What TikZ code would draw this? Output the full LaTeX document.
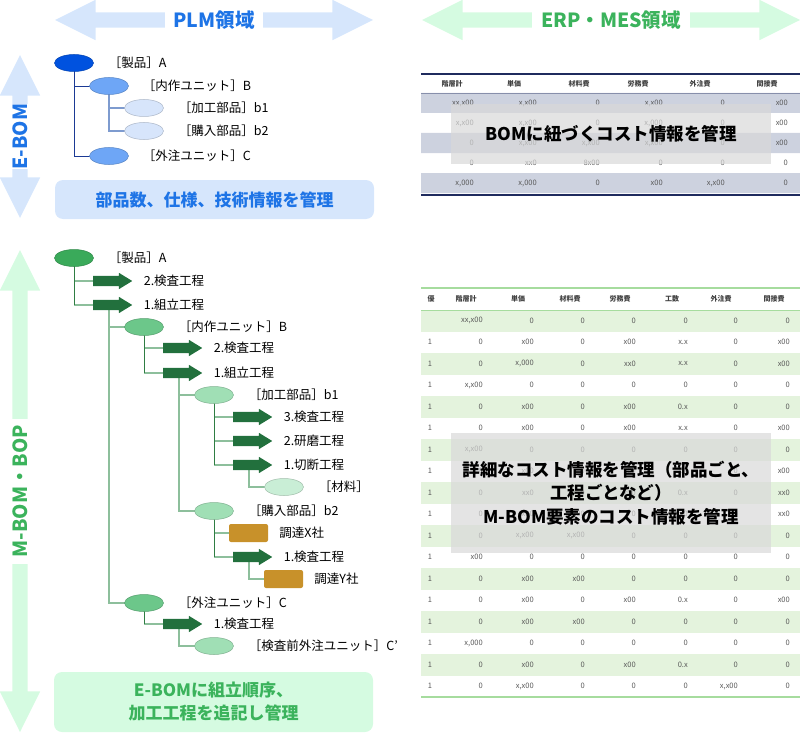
\documentclass[tikz,border=0pt]{standalone}
\usepackage{fontspec}
\setmainfont{Noto Sans CJK JP}
\usetikzlibrary{shapes.geometric,shapes.arrows,positioning,backgrounds}

\definecolor{plmblue}{HTML}{1E74E6}
\definecolor{plmpale}{HTML}{D6E6FC}
\definecolor{erpgreen}{HTML}{3BB35C}
\definecolor{erppale}{HTML}{D5FBE1}
\definecolor{ebomdark}{HTML}{0052DF}
\definecolor{ebommid}{HTML}{6EA6F6}
\definecolor{ebomlight}{HTML}{D7E5FB}
\definecolor{blueline}{HTML}{1B3A94}
\definecolor{bluelinelt}{HTML}{7E9BCF}
\definecolor{mbomdark}{HTML}{3AAA5A}
\definecolor{mbommid}{HTML}{6CC78A}
\definecolor{mbomlight}{HTML}{A0DFB5}
\definecolor{mbompale}{HTML}{C9EED6}
\definecolor{procgreen}{HTML}{22703D}
\definecolor{supgold}{HTML}{C8912A}
\definecolor{greenline}{HTML}{2F7D43}
\definecolor{greenlinelt}{HTML}{8DBF9C}
\definecolor{navyrule}{HTML}{1F2B5E}
\definecolor{bluerow}{HTML}{CDD2DF}
\definecolor{greenrule}{HTML}{A6DC9E}
\definecolor{greenrow}{HTML}{E4F3DD}

\tikzset{
  bigarrow/.style={double arrow, fill=#1, draw=none, inner xsep=0pt, inner ysep=7.5pt,
    double arrow head extend=12.5pt,
    double arrow tip angle=53, double arrow head indent=0pt},
  areatitle/.style={fill=white, text=#1, inner sep=0pt, minimum height=22pt,
    font=\bfseries\fontsize{19.5}{22}\selectfont},
  partnode/.style={ellipse, fill=#1, draw=#1!80!black, line width=.5pt,
    minimum width=39pt, minimum height=17pt, inner sep=0pt},
  procarrow/.style={single arrow, fill=procgreen, draw=none, inner xsep=0pt, inner ysep=5pt,
    minimum height=39pt, single arrow head extend=3pt,
    single arrow tip angle=63, single arrow head indent=0pt},
  supbox/.style={rectangle, rounded corners=2pt, fill=supgold, inner sep=0pt,
    minimum width=39pt, minimum height=18pt},
  itemlabel/.style={anchor=west, inner sep=0pt, font=\fontsize{12.5}{14}\selectfont},
  notebox/.style={rounded corners=8pt, fill=#1, inner sep=0pt, align=center,
    font=\bfseries\fontsize{17}{23}\selectfont},
  shadebox/.style={fill=gray!30, fill opacity=.7, text opacity=1, align=center,
    inner sep=0pt, minimum width=320pt, font=\bfseries\fontsize{17.5}{23.5}\selectfont},
  thead/.style={font=\bfseries\fontsize{7}{8}\selectfont, text=black!75, inner sep=0pt},
  tcell/.style={font=\fontsize{7.5}{9}\selectfont, text=black!65, inner sep=0pt, anchor=east},
  darkline/.style={draw=#1, line width=.8pt},
  paleline/.style={draw=#1, line width=2pt},
}

\begin{document}
\begin{tikzpicture}[x=1pt,y=-1pt]
  \useasboundingbox (0,0) rectangle (800,733);

  % area arrows
  \node[bigarrow=plmpale, minimum height=318pt] (plmarr) at (214,20) {};
  \node[areatitle=plmblue, minimum width=98pt] (plmtitle) at (plmarr) {PLM領域};
  \node[bigarrow=erppale, minimum height=378pt] (erparr) at (611,20) {};
  \node[areatitle=erpgreen, minimum width=158pt] (erptitle) at (erparr) {ERP・MES領域};
  \node[bigarrow=plmpale, minimum height=163pt, rotate=90] (ebomarr) at (20,136.5) {};
  \node[areatitle=plmblue, minimum width=65pt, rotate=90] (ebomtitle) at (ebomarr) {E-BOM};
  \node[bigarrow=erppale, minimum height=482pt, rotate=90] (mbomarr) at (20,491) {};
  \node[areatitle=erpgreen, minimum width=145pt, rotate=90] (mbomtitle) at (mbomarr) {M-BOM・BOP};

  % E-BOM tree
  \node[partnode=ebomdark] (eA) at (74,63) {};
  \node[partnode=ebommid] (eB) at (109,86) {};
  \node[partnode=ebomlight] (eb1) at (144,108) {};
  \node[partnode=ebomlight] (eb2) at (144,131) {};
  \node[partnode=ebommid] (eC) at (109,156) {};
  \node[itemlabel, right=15pt of eA] (eAlab) {［製品］A};
  \node[itemlabel, right=14pt of eB] (eBlab) {［内作ユニット］B};
  \node[itemlabel, right=15pt of eb1] (eb1lab) {［加工部品］b1};
  \node[itemlabel, right=15pt of eb2] (eb2lab) {［購入部品］b2};
  \node[itemlabel, right=14pt of eC] (eClab) {［外注ユニット］C};
  \begin{pgfonlayer}{background}
    \draw[darkline=blueline] (eA.center) |- (eB.center) (eA.center) |- (eC.center);
    \draw[paleline=bluelinelt] (eB.center) |- (eb1.center) (eB.center) |- (eb2.center);
  \end{pgfonlayer}
  \node[notebox=plmpale, text=plmblue, minimum width=319pt, minimum height=39pt]
    (ebomnote) at (214.5,199.5) {部品数、仕様、技術情報を管理};

  % M-BOM / BOP tree
  \node[partnode=mbomdark] (gA) at (74,258) {};
  \node[procarrow] (p1) at (108.5,281) {};
  \node[procarrow] (p2) at (108.5,305) {};
  \node[partnode=mbommid] (gB) at (144,327) {};
  \node[procarrow] (p3) at (178.5,348) {};
  \node[procarrow] (p4) at (178.5,373) {};
  \node[partnode=mbomlight] (gb1) at (214,395) {};
  \node[procarrow] (p5) at (248.5,417) {};
  \node[procarrow] (p6) at (248.5,441) {};
  \node[procarrow] (p7) at (248.5,465) {};
  \node[partnode=mbompale] (gm) at (284,487) {};
  \node[partnode=mbomlight] (gb2) at (214,511) {};
  \node[supbox] (sX) at (248.5,533) {};
  \node[procarrow] (p8) at (248.5,557) {};
  \node[supbox] (sY) at (283.5,579) {};
  \node[partnode=mbommid] (gC) at (144,603) {};
  \node[procarrow] (p9) at (178.5,624) {};
  \node[partnode=mbomlight] (gC2) at (214,646) {};

  \node[itemlabel, right=15pt of gA] (gAlab) {［製品］A};
  \node[itemlabel, right=11pt of p1.tip] (p1lab) {2.検査工程};
  \node[itemlabel, right=11pt of p2.tip] (p2lab) {1.組立工程};
  \node[itemlabel, right=15pt of gB] (gBlab) {［内作ユニット］B};
  \node[itemlabel, right=11pt of p3.tip] (p3lab) {2.検査工程};
  \node[itemlabel, right=11pt of p4.tip] (p4lab) {1.組立工程};
  \node[itemlabel, right=15pt of gb1] (gb1lab) {［加工部品］b1};
  \node[itemlabel, right=11pt of p5.tip] (p5lab) {3.検査工程};
  \node[itemlabel, right=11pt of p6.tip] (p6lab) {2.研磨工程};
  \node[itemlabel, right=11pt of p7.tip] (p7lab) {1.切断工程};
  \node[itemlabel, right=15pt of gm] (gmlab) {［材料］};
  \node[itemlabel, right=15pt of gb2] (gb2lab) {［購入部品］b2};
  \node[itemlabel, right=11pt of sX] (sXlab) {調達X社};
  \node[itemlabel, right=11pt of p8.tip] (p8lab) {1.検査工程};
  \node[itemlabel, right=11pt of sY] (sYlab) {調達Y社};
  \node[itemlabel, right=15pt of gC] (gClab) {［外注ユニット］C};
  \node[itemlabel, right=11pt of p9.tip] (p9lab) {1.検査工程};
  \node[itemlabel, right=15pt of gC2] (gC2lab) {［検査前外注ユニット］C’};

  \begin{pgfonlayer}{background}
    \draw[paleline=greenlinelt] (gA.center |- p1.center) -- (p1.center)
      (gA.center |- p2.center) -- (p2.center);
    \draw[darkline=greenline] (gA.center) -- (gA.center |- p2.center);
    \draw[paleline=greenlinelt] (p2.center) |- (gB.center) (p2.center) |- (gC.center);
    \draw[paleline=greenlinelt] (gB.center |- p3.center) -- (p3.center)
      (gB.center |- p4.center) -- (p4.center);
    \draw[darkline=greenline] (gB.center) -- (gB.center |- p4.center);
    \draw[paleline=greenlinelt] (p4.center) |- (gb1.center) (p4.center) |- (gb2.center);
    \draw[paleline=greenlinelt] (gb1.center |- p5.center) -- (p5.center)
      (gb1.center |- p6.center) -- (p6.center) (gb1.center |- p7.center) -- (p7.center);
    \draw[darkline=greenline] (gb1.center) -- (gb1.center |- p7.center);
    \draw[paleline=greenlinelt] (p7.center) |- (gm.center);
    \draw[paleline=greenlinelt] (gb2.center |- sX.center) -- (sX.center)
      (gb2.center |- p8.center) -- (p8.center);
    \draw[darkline=greenline] (gb2.center) -- (gb2.center |- p8.center);
    \draw[paleline=greenlinelt] (p8.center) |- (sY.center);
    \draw[paleline=greenlinelt] (gC.center |- p9.center) -- (p9.center);
    \draw[darkline=greenline] (gC.center) -- (gC.center |- p9.center);
    \draw[paleline=greenlinelt] (p9.center) |- (gC2.center);
  \end{pgfonlayer}
  \node[notebox=erppale, text=erpgreen, minimum width=319pt, minimum height=60pt]
    (mbomnote) at (213.5,702) {E-BOMに組立順序、\\加工工程を追記し管理};

  % cost table for E-BOM
  \fill[bluerow] (421,93) rectangle (800,113) (421,133) rectangle (800,153)
    (421,173) rectangle (800,193);
  \draw[navyrule, line width=1.5pt] (421,74) -- (800,74) (421,195) -- (800,195);
  \draw[bluerow!60!navyrule, line width=.6pt] (421,93) -- (800,93);
  \foreach \h/\x in {階層計/452,単価/514,材料費/579,労務費/638,外注費/700,間接費/767}
    \node[thead] (ta-\h) at (\x,84) {\h};
  \def\tabAx{{474,537,600,663,725,788}}
  \foreach \row [count=\r] in {%
    {{xx,x00},{x,x00},0,{x,x00},0,x00},%
    {{x,x00},{x,x00},0,{x,000},0,x00},%
    {0,{x,x00},{x,x00},{x,x00},0,x00},%
    {0,xx0,8x00,0,0,0},%
    {{x,000},{x,000},0,x00,{x,x00},0}}
    \foreach \v [count=\c] in \row
      \node[tcell] (ta-\r-\c) at ({\tabAx[\c-1]},83+20*\r) {\v};
  \node[shadebox, minimum height=60pt] (tanote) at (611,134) {BOMに紐づくコスト情報を管理};

  % cost table for M-BOM / BOP
  \foreach \r in {1,3,...,17}
    \fill[greenrow] (421,288.5+21.5*\r) rectangle (800,310+21.5*\r);
  \draw[greenrule, line width=1.5pt] (421,288) -- (800,288) (421,697) -- (800,697);
  \draw[greenrule, line width=.6pt] (421,310) -- (800,310);
  \foreach \h/\x in {優/431,階層計/466,単価/518,材料費/570,労務費/620,工数/672,外注費/721,間接費/774}
    \node[thead] (tb-\h) at (\x,299) {\h};
  \def\tabBx{{430,483,534,585,636,688,738,790}}
  \foreach \row [count=\r] in {%
    {{},{xx,x00},0,0,0,0,0,0},%
    {1,0,x00,0,x00,x.x,0,x00},%
    {1,0,{x,000},0,xx0,x.x,0,x00},%
    {1,{x,x00},0,0,0,0,0,0},%
    {1,0,x00,0,x00,0.x,0,0},%
    {1,0,x00,0,x00,x.x,0,x00},%
    {1,{x,x00},0,0,0,0,0,0},%
    {1,0,x00,0,x00,x.x,0,x00},%
    {1,0,xx0,0,x00,0.x,0,xx0},%
    {1,0,x00,x00,0,0,0,xx0},%
    {1,0,{x,x00},{x,x00},0,0,0,0},%
    {1,x00,0,0,0,0,0,0},%
    {1,0,x00,x00,0,0,0,0},%
    {1,0,x00,0,x00,0.x,0,x00},%
    {1,0,x00,x00,0,0,0,0},%
    {1,{x,000},0,0,0,0,0,0},%
    {1,0,x00,0,x00,0.x,0,0},%
    {1,0,{x,x00},0,0,0,{x,x00},0}}
    \foreach \v [count=\c] in \row {
      \ifnum\c=1
        \node[tcell, anchor=center] (tb-\r-\c) at (430,299.25+21.5*\r) {\v};
      \else
        \node[tcell] (tb-\r-\c) at ({\tabBx[\c-1]},299.25+21.5*\r) {\v};
      \fi
    }
  \node[shadebox, minimum height=120pt] (tbnote) at (611,493)
    {詳細なコスト情報を管理（部品ごと、\\工程ごとなど）\\M-BOM要素のコスト情報を管理};
\end{tikzpicture}
\end{document}
